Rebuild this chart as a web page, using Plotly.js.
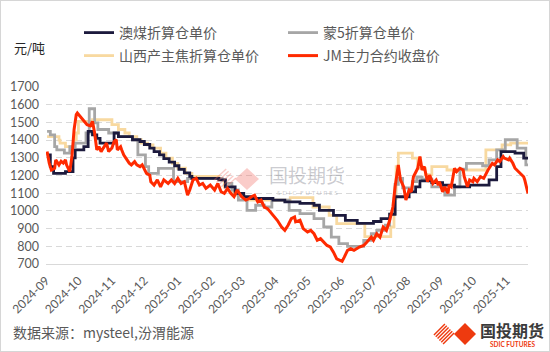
<!DOCTYPE html>
<html><head><meta charset="utf-8">
<script src="https://cdn.plot.ly/plotly-3.0.1.min.js"></script>
<style>
html,body{margin:0;padding:0;background:#fff;}
#chart{width:550px;height:352px;}
#frame{position:absolute;left:0;top:0;width:548px;height:350px;border:1px solid #d6d6d6;pointer-events:none;}
</style>
</head><body><div id="chart"></div><div id="frame"></div>
<script>
// ---------------- DATA ----------------
const seriesNames = ['澳煤折算仓单价', '蒙5折算仓单价', '山西产主焦折算仓单价', 'JM主力合约收盘价'];

// 澳煤折算仓单价 (weekly steps)
const auDates = ['2024-09-03','2024-09-06','2024-09-09','2024-09-20','2024-09-27','2024-09-29','2024-10-07','2024-10-11','2024-10-15','2024-10-19','2024-10-22','2024-11-04','2024-11-08','2024-11-21','2024-11-28','2024-12-02','2024-12-07','2024-12-11','2024-12-16','2024-12-20','2024-12-25','2024-12-30','2025-01-03','2025-01-08','2025-01-13','2025-01-15','2025-02-09','2025-02-15','2025-02-24','2025-03-04','2025-03-11','2025-03-31','2025-04-11','2025-04-25','2025-05-08','2025-05-13','2025-05-26','2025-06-06','2025-06-17','2025-07-02','2025-07-09','2025-07-17','2025-07-22','2025-08-04','2025-08-10','2025-08-14','2025-08-25','2025-09-04','2025-09-15','2025-09-29','2025-10-17','2025-10-24','2025-10-28','2025-11-10','2025-11-18','2025-11-22'];
const auValues = [1316,1250,1212,1222,1300,1345,1363,1449,1430,1410,1383,1440,1420,1402,1392,1375,1355,1335,1316,1295,1275,1255,1235,1215,1195,1184,1175,1136,1099,1080,1070,1061,1051,1042,1032,1003,975,947,930,940,956,980,1080,1108,1136,1170,1160,1146,1136,1146,1175,1250,1335,1326,1298,1298];

// 蒙5折算仓单价
const mnDates = ['2024-09-03','2024-09-06','2024-09-10','2024-09-12','2024-09-19','2024-09-24','2024-09-29','2024-10-09','2024-10-12','2024-10-17','2024-10-20','2024-10-30','2024-11-08','2024-11-21','2024-11-26','2024-12-03','2024-12-06','2024-12-15','2024-12-29','2025-01-11','2025-02-12','2025-02-15','2025-02-21','2025-02-27','2025-03-07','2025-03-15','2025-03-23','2025-03-30','2025-04-15','2025-04-25','2025-05-08','2025-05-17','2025-05-24','2025-05-31','2025-06-08','2025-06-23','2025-06-30','2025-07-05','2025-07-13','2025-07-17','2025-07-22','2025-07-25','2025-07-29','2025-08-04','2025-08-07','2025-08-11','2025-08-16','2025-08-25','2025-09-06','2025-09-15','2025-09-20','2025-09-26','2025-10-11','2025-10-17','2025-10-24','2025-11-01','2025-11-12','2025-11-20','2025-11-22'];
const mnValues = [1449,1430,1363,1345,1326,1363,1383,1440,1577,1497,1460,1440,1420,1402,1316,1250,1212,1240,1165,1184,1175,1155,1118,1061,1003,1032,1022,1061,1003,985,956,909,852,815,800,834,871,890,920,985,1150,1184,1130,1120,1165,1190,1180,1136,1089,1136,1236,1269,1255,1288,1345,1402,1355,1260,1260];

// 山西产主焦折算仓单价
const sxDates = ['2024-09-03','2024-09-14','2024-09-15','2024-09-20','2024-09-28','2024-09-30','2024-10-02','2024-10-15','2024-11-02','2024-11-08','2024-11-14','2024-11-18','2024-11-25','2024-11-29','2024-12-05','2024-12-10','2024-12-17','2024-12-22','2024-12-28','2025-01-02','2025-01-09','2025-01-15','2025-02-09','2025-02-14','2025-02-22','2025-03-04','2025-03-09','2025-04-16','2025-05-07','2025-05-22','2025-05-29','2025-06-24','2025-07-18','2025-07-21','2025-07-23','2025-07-25','2025-08-07','2025-08-12','2025-08-19','2025-08-25','2025-09-08','2025-10-14','2025-10-29','2025-11-06','2025-11-22'];
const sxValues = [1420,1400,1383,1363,1402,1440,1506,1515,1487,1460,1440,1420,1402,1383,1373,1355,1326,1298,1269,1241,1212,1195,1175,1136,1089,1070,1061,1075,1022,975,928,855,909,1070,1250,1326,1298,1240,1205,1250,1231,1345,1373,1383,1383];

// JM主力合约收盘价
const jmDates = ['2024-09-03','2024-09-05','2024-09-07','2024-09-10','2024-09-11','2024-09-14','2024-09-16','2024-09-18','2024-09-20','2024-09-21','2024-09-24','2024-09-26','2024-09-28','2024-09-30','2024-10-01','2024-10-05','2024-10-10','2024-10-13','2024-10-15','2024-10-17','2024-10-19','2024-10-21','2024-10-23','2024-10-25','2024-10-28','2024-10-30','2024-11-02','2024-11-04','2024-11-06','2024-11-07','2024-11-10','2024-11-11','2024-11-13','2024-11-16','2024-11-18','2024-11-20','2024-11-23','2024-11-25','2024-11-28','2024-11-30','2024-12-04','2024-12-07','2024-12-08','2024-12-11','2024-12-14','2024-12-17','2024-12-20','2024-12-24','2024-12-27','2024-12-30','2025-01-02','2025-01-05','2025-01-08','2025-01-11','2025-01-13','2025-01-16','2025-01-19','2025-01-22','2025-01-25','2025-01-28','2025-02-01','2025-02-05','2025-02-08','2025-02-11','2025-02-14','2025-02-17','2025-02-20','2025-02-23','2025-02-26','2025-03-02','2025-03-06','2025-03-09','2025-03-11','2025-03-14','2025-03-17','2025-03-20','2025-03-23','2025-03-26','2025-03-30','2025-04-01','2025-04-04','2025-04-08','2025-04-11','2025-04-14','2025-04-17','2025-04-20','2025-04-21','2025-04-25','2025-04-28','2025-05-02','2025-05-05','2025-05-08','2025-05-11','2025-05-14','2025-05-17','2025-05-20','2025-05-23','2025-05-26','2025-05-29','2025-06-02','2025-06-03','2025-06-05','2025-06-08','2025-06-11','2025-06-14','2025-06-19','2025-06-23','2025-06-26','2025-06-30','2025-07-02','2025-07-05','2025-07-08','2025-07-11','2025-07-14','2025-07-17','2025-07-20','2025-07-22','2025-07-25','2025-07-27','2025-07-30','2025-08-01','2025-08-04','2025-08-06','2025-08-08','2025-08-11','2025-08-12','2025-08-14','2025-08-16','2025-08-18','2025-08-21','2025-08-23','2025-08-26','2025-08-29','2025-08-31','2025-09-01','2025-09-04','2025-09-06','2025-09-09','2025-09-10','2025-09-12','2025-09-15','2025-09-17','2025-09-20','2025-09-23','2025-09-24','2025-09-27','2025-09-29','2025-10-02','2025-10-03','2025-10-06','2025-10-09','2025-10-12','2025-10-16','2025-10-17','2025-10-20','2025-10-22','2025-10-25','2025-10-27','2025-10-30','2025-10-31','2025-11-04','2025-11-05','2025-11-08','2025-11-10','2025-11-13','2025-11-15','2025-11-18','2025-11-19','2025-11-22'];
const jmValues = [1335,1270,1231,1241,1288,1260,1280,1270,1288,1260,1222,1307,1460,1544,1553,1525,1487,1480,1506,1440,1345,1363,1335,1355,1383,1335,1355,1392,1402,1345,1363,1345,1316,1288,1270,1260,1278,1260,1250,1260,1212,1202,1165,1146,1175,1136,1175,1155,1175,1155,1184,1155,1165,1089,1118,1175,1184,1146,1155,1127,1146,1118,1155,1108,1099,1127,1099,1080,1118,1080,1061,1070,1080,1089,1051,1061,1022,1013,985,966,947,909,890,919,956,966,938,947,900,881,890,871,834,843,824,805,796,767,729,720,715,739,777,786,777,796,805,824,852,834,871,852,909,890,947,1022,1136,1260,1175,1136,1061,1118,1108,1193,1231,1241,1307,1231,1250,1165,1202,1155,1175,1146,1165,1108,1136,1099,1146,1136,1241,1222,1241,1231,1193,1136,1175,1165,1184,1165,1193,1184,1231,1241,1269,1260,1288,1280,1307,1298,1288,1298,1269,1241,1222,1212,1193,1175,1099];

const yTickVals = [700,800,900,1000,1100,1200,1300,1400,1500,1600,1700];
const unitLabel = '元/吨';
const sourceLabel = '数据来源：mysteel,汾渭能源';
const brandCN = '国投期货';
const brandEN = 'SDIC FUTURES';

// ---------------- LAYOUT HELPERS ----------------
const W = 550, H = 352;
const M = {l: 46, r: 22, t: 87, b: 88};
const px = x => (x - M.l) / (W - M.l - M.r);
const py = y => (H - M.b - y) / (H - M.t - M.b);
const cjk = '"Noto Sans CJK SC", "Noto Sans", sans-serif';
const latin = 'Lato, "Noto Sans", sans-serif';

function diamond(cx, cy, hw, hh) {
  return `M ${px(cx - hw)},${py(cy)} L ${px(cx)},${py(cy - hh)} L ${px(cx + hw)},${py(cy)} L ${px(cx)},${py(cy + hh)} Z`;
}
function stripes(cx, cy, hw, hh, color, n) {
  const out = [];
  for (let i = 0; i < n; i++) {
    const t = (i + 0.5) / n;
    const x0 = cx - hw + t * hw, y0 = cy + t * hh;
    const x1 = cx + t * hw, y1 = cy - hh + t * hh;
    out.push({type: 'line', xref: 'paper', yref: 'paper', x0: px(x0), y0: py(y0), x1: px(x1), y1: py(y1),
      line: {color: color, width: 1.4}, layer: 'above'});
  }
  return out;
}

const traces = [
  {x: sxDates, y: sxValues, name: seriesNames[2], legend: 'legend3', type: 'scatter', mode: 'lines',
   line: {color: '#f8d9a0', width: 2.8, shape: 'hv'}},
  {x: mnDates, y: mnValues, name: seriesNames[1], legend: 'legend2', type: 'scatter', mode: 'lines',
   line: {color: '#a6a6a6', width: 2.8, shape: 'hv'}},
  {x: auDates, y: auValues, name: seriesNames[0], legend: 'legend', type: 'scatter', mode: 'lines',
   line: {color: '#1c1a3d', width: 2.8, shape: 'hv'}},
  {x: jmDates, y: jmValues, name: seriesNames[3], legend: 'legend4', type: 'scatter', mode: 'lines',
   line: {color: '#ff2a00', width: 3}}
];

const legBase = {xref: 'container', yref: 'container', xanchor: 'left', yanchor: 'middle',
  bgcolor: 'rgba(0,0,0,0)', borderwidth: 0, orientation: 'v',
  font: {family: cjk, size: 14, color: '#595959'}};

const shapes = [
  {type: 'path', xref: 'paper', yref: 'paper', path: diamond(247, 179, 12, 11),
   fillcolor: 'rgba(240,110,100,0.35)', line: {width: 0}, layer: 'above'},
  ...stripes(225, 179, 12, 11, 'rgba(240,110,100,0.35)', 5),
  {type: 'path', xref: 'paper', yref: 'paper', path: diamond(465, 334, 11, 11),
   fillcolor: '#ee3a0f', line: {width: 0}, layer: 'above'},
  ...stripes(444, 334, 11, 11, '#ee3a0f', 6)
];

const annotations = [
  {text: unitLabel, xref: 'paper', yref: 'paper', x: px(12), y: py(47), xanchor: 'left', yanchor: 'middle',
   showarrow: false, font: {family: cjk, size: 13, color: '#262626'}},
  {text: sourceLabel, xref: 'paper', yref: 'paper', x: px(11), y: py(332), xanchor: 'left', yanchor: 'middle',
   showarrow: false, font: {family: cjk, size: 14, color: '#595959'}},
  {text: '<b>' + brandCN + '</b>', xref: 'paper', yref: 'paper', x: px(512), y: py(330), xanchor: 'center', yanchor: 'middle',
   showarrow: false, font: {family: cjk, size: 16, color: '#3b3b3b'}},
  {text: '<b>' + brandEN + '</b>', xref: 'paper', yref: 'paper', x: px(512), y: py(344), xanchor: 'center', yanchor: 'middle',
   showarrow: false, font: {family: latin, size: 6.5, color: '#ee3a0f'}},
  {text: brandCN, xref: 'paper', yref: 'paper', x: px(307), y: py(174), xanchor: 'center', yanchor: 'middle',
   showarrow: false, font: {family: cjk, size: 19, color: 'rgba(140,140,150,0.45)'}},
  {text: 'S D I C  F U T U R E S', xref: 'paper', yref: 'paper', x: px(307), y: py(192), xanchor: 'center', yanchor: 'middle',
   showarrow: false, font: {family: latin, size: 6.5, color: 'rgba(140,140,150,0.45)'}}
];

const layout = {
  width: W, height: H,
  margin: Object.assign({autoexpand: false}, M),
  paper_bgcolor: '#ffffff', plot_bgcolor: '#ffffff',
  showlegend: true,
  legend: Object.assign({}, legBase, {x: 79 / W, y: 1 - 33 / H}),
  legend2: Object.assign({}, legBase, {x: 283 / W, y: 1 - 33 / H}),
  legend3: Object.assign({}, legBase, {x: 79 / W, y: 1 - 56 / H}),
  legend4: Object.assign({}, legBase, {x: 283 / W, y: 1 - 56 / H}),
  xaxis: {
    type: 'date', range: ['2024-09-02', '2025-11-22'],
    tick0: '2024-09-02', dtick: 'M1', tickformat: '%Y-%m', tickangle: -45,
    ticks: '', showgrid: false, zeroline: false, automargin: false,
    showline: true, linecolor: '#d9d9d9', linewidth: 1,
    ticklabelstandoff: 4,
    tickfont: {family: latin, size: 12, color: '#595959'}
  },
  yaxis: {
    range: [700, 1700], tickvals: yTickVals, ticks: '', automargin: false,
    showgrid: true, gridcolor: '#d9d9d9', griddash: '6px,4px', gridwidth: 1,
    zeroline: false, showline: false, ticklabelstandoff: 6,
    tickfont: {family: latin, size: 12.5, color: '#595959'}
  },
  shapes: shapes,
  annotations: annotations
};

Plotly.newPlot('chart', traces, layout, {displayModeBar: false, staticPlot: true});
</script>
</body></html>
